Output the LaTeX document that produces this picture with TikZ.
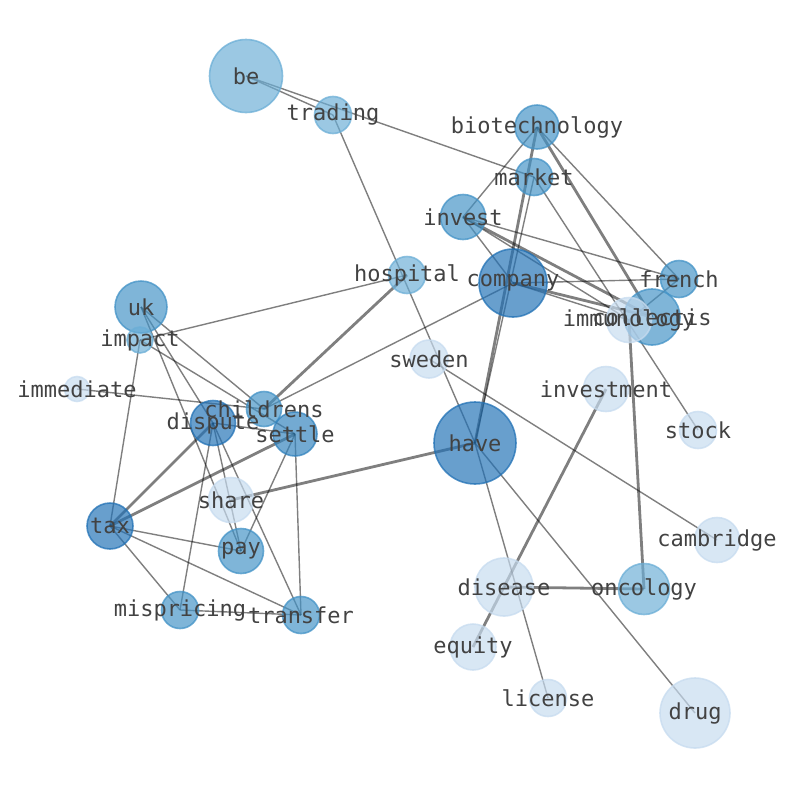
\documentclass[tikz,border=0pt]{standalone}
\usepackage{fontspec}
\newfontfamily\wordfont{DejaVu Sans Mono}
\usetikzlibrary{backgrounds}
\definecolor{bluD}{HTML}{2171B5}
\definecolor{bluS}{HTML}{3182BD}
\definecolor{bluM}{HTML}{4292C6}
\definecolor{bluL}{HTML}{6BAED6}
\definecolor{bluP}{HTML}{C6DBEF}

\begin{document}
\begin{tikzpicture}[x=1pt,y=-1pt,line cap=round,line join=round,
  word/.style 2 args={circle,inner sep=0pt,minimum size=#2pt,fill=#1,draw=#1,
    fill opacity=.68,draw opacity=.75,line width=1.6pt},
  edge/.style={black,draw opacity=.5,line width=1.4pt},
  heavy/.style={edge,line width=2.8pt},
  tag/.style={font=\wordfont\fontsize{22}{25}\selectfont,text=black!74,inner sep=0pt}]
  \useasboundingbox (0,0) rectangle (794,790);
  % circles, one per word; px coordinates measured off the plot
  \foreach \n/\x/\y/\d/\c in {be/246/76/73/bluL, trading/333/115/37/bluL,
    hospital/407/275/37/bluL, biotechnology/537/127/44/bluM, market/534/177/37/bluM,
    invest/463/217/45/bluM, company/513/283/68/bluD, french/679/279/37/bluM,
    collectis/652/317/56/bluM, immunology/629/320/45/bluP, uk/141/307/52/bluM,
    impact/140/340/26/bluL, immediate/77/389/25/bluP, childrens/264/409/35/bluM,
    dispute/213/423/45/bluD, settle/295/434/44/bluS, share/231/500/45/bluP,
    tax/110/526/46/bluD, pay/241/551/45/bluM, mispricing/180/610/37/bluM,
    transfer/301/615/37/bluM, sweden/429/359/38/bluP, investment/606/389/45/bluP,
    stock/698/430/37/bluP, have/475/443/82/bluD, cambridge/717/540/45/bluP,
    disease/504/587/58/bluP, oncology/644/589/51/bluL, equity/473/647/46/bluP,
    license/548/698/37/bluP, drug/695/713/70/bluP}
    \node[word={\c}{\d}] (\n) at (\x,\y) {};
  \begin{scope}[on background layer]
    \foreach \a/\b in {be/trading, be/market, trading/have, hospital/impact,
      company/childrens, biotechnology/invest, market/have, biotechnology/french,
      market/stock, invest/french, invest/immunology, invest/company,
      company/french, company/immunology, french/immunology, have/license,
      have/drug, sweden/cambridge, uk/childrens, uk/dispute, uk/pay,
      impact/settle, impact/tax, immediate/childrens, dispute/settle,
      dispute/pay, dispute/mispricing, dispute/transfer, settle/pay,
      settle/transfer, tax/pay, tax/mispricing, tax/transfer, mispricing/transfer}
      \draw[edge] (\a.center) -- (\b.center);
    \foreach \a/\b in {hospital/childrens, biotechnology/have, biotechnology/collectis,
      invest/collectis, company/collectis, immunology/oncology, disease/oncology,
      investment/equity, share/have, dispute/tax, settle/tax}
      \draw[heavy] (\a.center) -- (\b.center);
  \end{scope}
  \foreach \n in {be,trading,hospital,biotechnology,market,invest,company,french,
    collectis,immunology,uk,impact,immediate,childrens,dispute,settle,share,tax,
    pay,mispricing,transfer,sweden,investment,stock,have,cambridge,disease,
    oncology,equity,license,drug}
    \node[tag] (\n-t) at (\n) {\n};
\end{tikzpicture}
\end{document}
